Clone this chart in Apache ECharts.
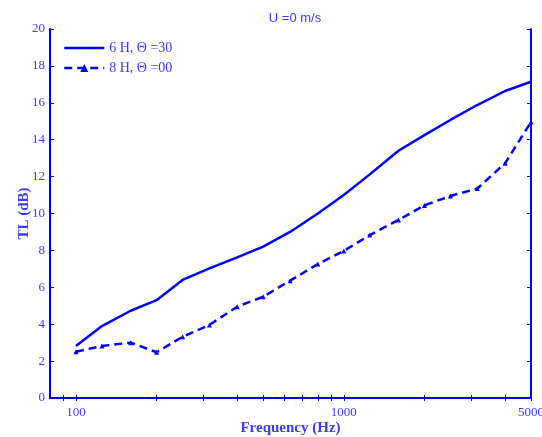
<!DOCTYPE html>
<html><head><meta charset="utf-8">
<script src="https://cdn.jsdelivr.net/npm/echarts@6/dist/echarts.min.js"></script>
<style>html,body{margin:0;padding:0;background:#fff}#c{width:542px;height:437px}</style>
</head><body><div id="c"></div>
<script>
const frequencies = [100,125,160,200,250,315,400,500,630,800,1000,1250,1600,2000,2500,3150,4000,5000];
const series6H30 = [2.82,3.9,4.73,5.3,6.4,7.03,7.62,8.2,9.0,10.0,11.0,12.12,13.4,14.25,15.07,15.88,16.64,17.14];
const series8H00 = [2.51,2.82,3.0,2.48,3.32,3.96,4.95,5.49,6.36,7.26,7.97,8.83,9.65,10.44,10.95,11.35,12.72,14.96];
const xTickValues = [90,100,200,300,400,500,600,700,800,900,1000,2000,3000,4000,5000];
const xLabelValues = [100,1000,5000];
const seriesNames = ['6 H, \u0398 =30','8 H, \u0398 =00'];

const BLUE = '#0000ff';
const TXT = '#3c3cf5';
const serif = '"Liberation Serif","DejaVu Serif",serif';
const chart = echarts.init(document.getElementById('c'));
const pairs = a => frequencies.map((f,i)=>[f,a[i]]);
const xBase = {
  type:'log', logBase:10, min:80, max:5000,
  axisLine:{show:true, lineStyle:{color:BLUE, width:2}},
  splitLine:{show:false}, minorTick:{show:false}, minorSplitLine:{show:false}
};
const yBase = {
  type:'value', min:0, max:20, interval:2,
  axisLine:{show:true, lineStyle:{color:BLUE, width:2}},
  axisTick:{show:true, inside:true, length:4, lineStyle:{color:BLUE, width:1}},
  splitLine:{show:false}
};
chart.setOption({
  animation:false,
  title:{text:'U =0 m/s', left:290, textAlign:'center', top:7,
    textStyle:{color:TXT, fontSize:13, fontWeight:'normal', fontFamily:'"Liberation Sans",Arial,sans-serif'}},
  grid:{left:50, right:11, top:29, bottom:39, containLabel:false, outerBoundsMode:'none'},
  legend:{
    orient:'vertical', left:58, top:36, itemWidth:40, itemHeight:10, itemGap:6,
    textStyle:{color:TXT, fontSize:14, fontFamily:serif},
    lineStyle:{width:2.5},
    data:[{name:seriesNames[0], itemStyle:{opacity:0}}, {name:seriesNames[1]}]
  },
  xAxis:[
    Object.assign({}, xBase, {
      position:'bottom',
      name:'Frequency (Hz)', nameLocation:'middle', nameGap:23, nameMoveOverlap:false,
      nameTextStyle:{color:TXT, fontSize:15, fontWeight:'bold', fontFamily:serif},
      axisTick:{show:true, inside:true, length:3, customValues:xTickValues, lineStyle:{color:BLUE, width:1}},
      axisLabel:{show:true, customValues:xLabelValues, margin:8, color:TXT, fontSize:13, fontFamily:serif,
        formatter: v => String(Math.round(v))}
    }),
    Object.assign({}, xBase, {
      position:'top',
      axisTick:{show:true, inside:true, length:3, customValues:xTickValues, lineStyle:{color:BLUE, width:1}},
      axisLabel:{show:false}
    })
  ],
  yAxis:[
    Object.assign({}, yBase, {
      position:'left',
      name:'TL (dB)', nameLocation:'middle', nameGap:18, nameRotate:90, nameMoveOverlap:false,
      nameTextStyle:{color:TXT, fontSize:15, fontWeight:'bold', fontFamily:serif},
      axisLabel:{show:true, margin:5, color:TXT, fontSize:13, fontFamily:serif}
    }),
    Object.assign({}, yBase, {
      position:'right',
      axisLabel:{show:false}
    })
  ],
  series:[
    {name:seriesNames[0], type:'line', data:pairs(series6H30), symbol:'none',
      lineStyle:{color:BLUE, width:2.5}, itemStyle:{color:BLUE}},
    {name:seriesNames[1], type:'line', data:pairs(series8H00), symbol:'triangle', symbolSize:5,
      lineStyle:{color:BLUE, width:2.5, type:[8,5]}, itemStyle:{color:BLUE}}
  ]
});
</script></body></html>
